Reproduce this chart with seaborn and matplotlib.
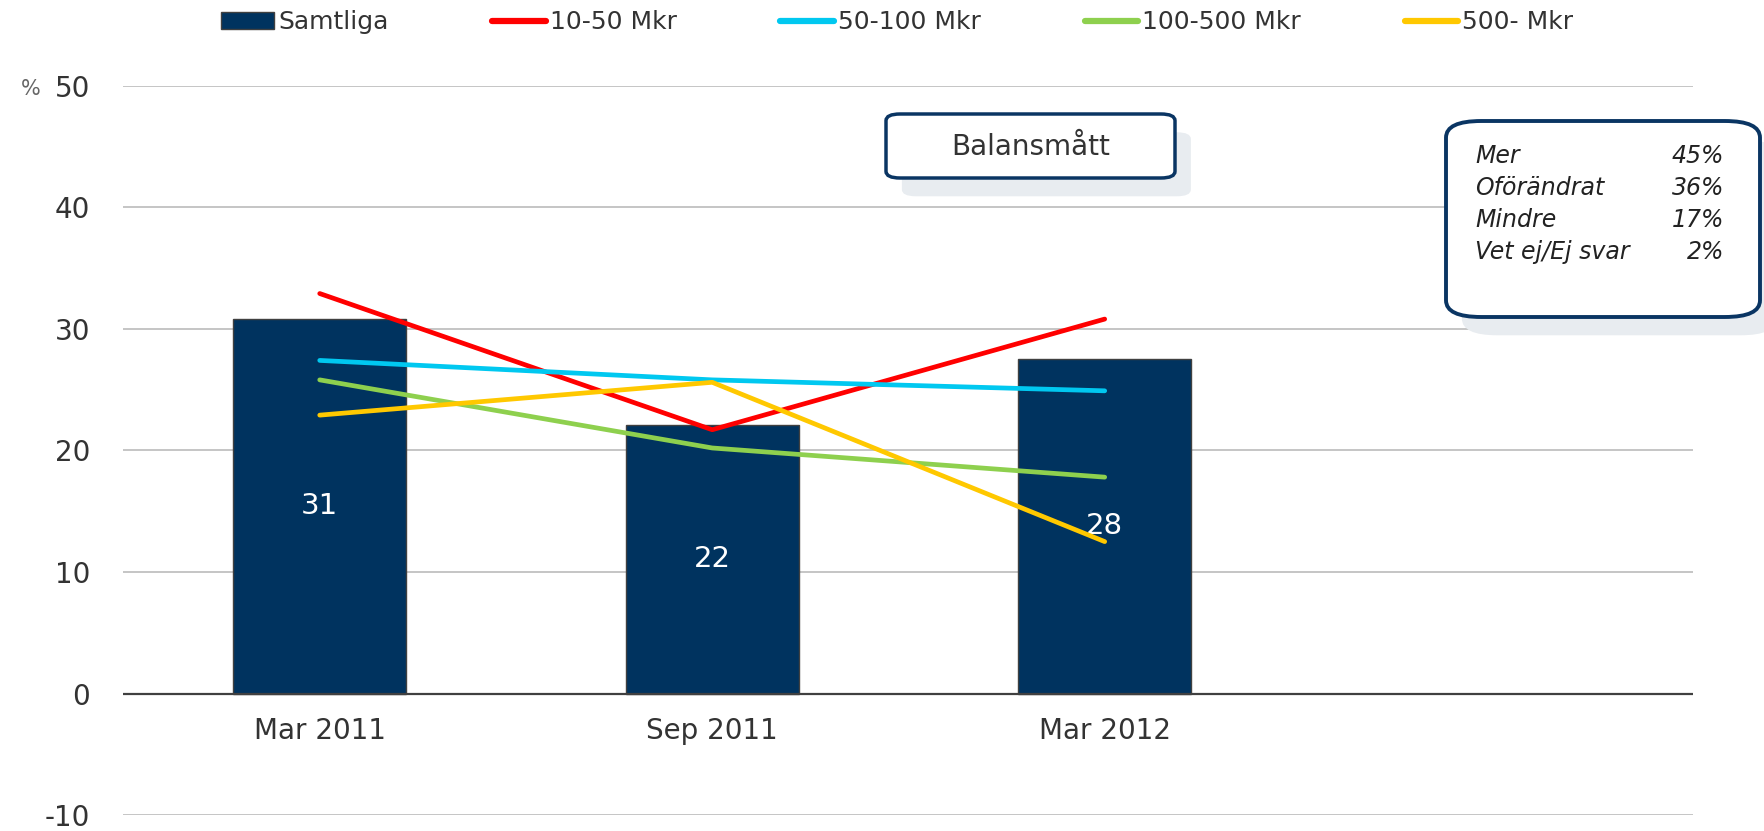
import matplotlib
matplotlib.use("Agg")
import matplotlib.pyplot as plt
import seaborn as sns
import pandas as pd
from matplotlib.patches import FancyBboxPatch, Patch
from matplotlib.lines import Line2D
from matplotlib import font_manager

categories = ["Mar 2011", "Sep 2011", "Mar 2012", ""]
samtliga = [30.8, 22.1, 27.5]
samtliga_labels = ["31", "22", "28"]
s_10_50 = [32.9, 21.7, 30.8]
s_50_100 = [27.4, 25.8, 24.9]
s_100_500 = [25.8, 20.2, 17.8]
s_500 = [22.9, 25.6, 12.5]
series_names = ["10-50 Mkr", "50-100 Mkr", "100-500 Mkr", "500- Mkr"]
series_colors = ["#ff0000", "#00c8f0", "#8ed04e", "#ffc800"]
bar_color = "#00335f"
info_rows = [("Mer", "45%"), ("Oförändrat", "36%"), ("Mindre", "17%"), ("Vet ej/Ej svar", "2%")]

sns.set_theme(style="white")
names = {f.name for f in font_manager.fontManager.ttflist}
fams = [f for f in ["DejaVu Sans Condensed", "Liberation Sans Narrow"] if f in names] + ["DejaVu Sans"]
plt.rcParams["font.family"] = fams
txt = "#333333"

fig = plt.figure(figsize=(17.64, 8.31), dpi=100)
ax = fig.add_axes([0.070, 0.019, 0.890, 0.878])

df = pd.DataFrame({"cat": categories[:3], "val": samtliga})
sns.barplot(data=df, x="cat", y="val", order=categories, color=bar_color,
            width=0.44, edgecolor="#404040", linewidth=1, saturation=1, ax=ax, zorder=2)
ax.bar_label(ax.containers[0], labels=samtliga_labels, label_type="center",
             color="white", fontsize=21)

for name, vals, col in zip(series_names, [s_10_50, s_50_100, s_100_500, s_500], series_colors):
    ldf = pd.DataFrame({"x": list(range(len(vals))), "y": vals})
    sns.lineplot(data=ldf, x="x", y="y", color=col, linewidth=3.4, ax=ax, zorder=3)

ax.set_xlim(-0.5, 3.5)
ax.set_ylim(-10, 50)
ax.set_yticks(range(-10, 51, 10))
ax.set_yticklabels([str(v) for v in range(-10, 51, 10)])
ax.set_xticks(range(4))
ax.set_xticklabels([])
ax.set_xlabel("")
ax.set_ylabel("")
for s in ax.spines.values():
    s.set_visible(False)
ax.grid(False)
for v in range(-10, 51, 10):
    if v != 0:
        ax.axhline(v, color="#c0c0c0", linewidth=1.3, zorder=0)
ax.axhline(0, color="#404040", linewidth=1.6, zorder=4)
ax.tick_params(axis="y", length=0, pad=24, labelsize=20, labelcolor=txt)
ax.tick_params(axis="x", length=0)
for i, c in enumerate(categories):
    ax.text(i, -3.1, c, ha="center", va="center", fontsize=20, color=txt)

fig.text(0.012, 0.893, "%", fontsize=15, color="#666666", ha="left", va="center")

# legend
handles = [Patch(facecolor=bar_color, edgecolor="#404040", label="Samtliga")]
for name, col in zip(series_names, series_colors):
    handles.append(Line2D([0], [0], color=col, linewidth=4.5, solid_capstyle="round", label=name))
fig.legend(handles=handles, loc="center left", bbox_to_anchor=(0.125, 0.973), ncol=5, frameon=False,
           fontsize=18, handlelength=2.15, handletextpad=0.15, columnspacing=4.15,
           labelcolor=txt, borderaxespad=0, borderpad=0)

def box(x0, y0, w, h, rad, lw):
    sh = FancyBboxPatch((x0 + 0.009, y0 - 0.022), w, h, boxstyle=f"round,pad=0,rounding_size={rad}",
                        transform=fig.transFigure, facecolor="#e8ecf0", edgecolor="none", zorder=5)
    fig.patches.append(sh)
    b = FancyBboxPatch((x0, y0), w, h, boxstyle=f"round,pad=0,rounding_size={rad}",
                       transform=fig.transFigure, facecolor="white", edgecolor="#0a3563",
                       linewidth=lw, zorder=6)
    fig.patches.append(b)

box(886 / 1764, 1 - 178 / 831, 289 / 1764, 64 / 831, 0.008, 2.5)
fig.text((886 + 289 / 2) / 1764, 1 - 147 / 831, "Balansmått", ha="center", va="center",
         fontsize=20, color=txt, zorder=7)

box(1446 / 1764, 1 - 317 / 831, 314 / 1764, 196 / 831, 0.02, 2.8)
y0 = 156
for i, (k, v) in enumerate(info_rows):
    yy = 1 - (y0 + i * 32) / 831
    fig.text(1475 / 1764, yy, k, ha="left", va="center", fontsize=17, style="italic",
             color="#222222", zorder=7)
    fig.text(1724 / 1764, yy, v, ha="right", va="center", fontsize=17, style="italic",
             color="#222222", zorder=7)

fig.savefig("out.png", dpi=100)
